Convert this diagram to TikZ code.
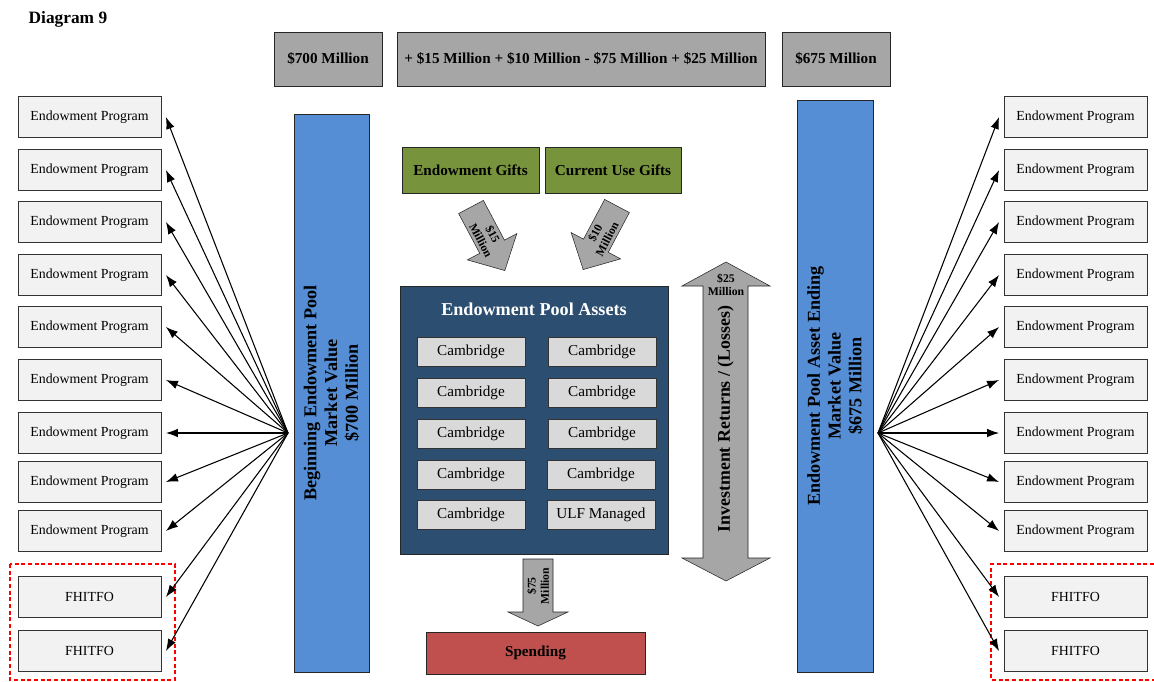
\documentclass[tikz,border=0pt]{standalone}
\usepackage{fontspec}
\setmainfont{Liberation Serif}
\usetikzlibrary{arrows.meta}
\usetikzlibrary{positioning}
\definecolor{topgray}{HTML}{A6A6A6}
\definecolor{progfill}{HTML}{F2F2F2}
\definecolor{barblue}{HTML}{558ED5}
\definecolor{giftgreen}{HTML}{77933C}
\definecolor{poolblue}{HTML}{2C4E70}
\definecolor{cellgray}{HTML}{D9D9D9}
\definecolor{spendred}{HTML}{C0504D}

\begin{document}
\begin{tikzpicture}[x=0.75pt,y=-0.75pt,
prog/.style = {draw=black!80, fill=progfill, minimum width=107.25pt,
            minimum height=30.75pt, inner sep=0pt,
            font=\fontsize{10.4}{12}\selectfont},
topbox/.style = {draw=black!85, fill=topgray, minimum height=40.5pt,
            inner sep=0pt, font=\fontsize{11.4}{13}\selectfont\bfseries},
bar/.style = {draw=black!85, fill=barblue, rotate=90, align=center,
            inner sep=0pt, font=\fontsize{13.6}{15.5}\selectfont\bfseries},
gift/.style = {draw=black!85, fill=giftgreen, minimum height=34.5pt,
            inner sep=0pt, font=\fontsize{11.4}{13}\selectfont\bfseries},
cell/.style = {draw=black!80, fill=cellgray, minimum width=81pt,
            minimum height=21.75pt, inner sep=0pt,
            font=\fontsize{11.4}{13}\selectfont},
blockarrow/.style = {draw=black!85, fill=topgray, line join=miter},
arrowlabel/.style = {align=center, inner sep=0pt,
            font=\fontsize{8.8}{10}\selectfont\bfseries},
fan/.style = {draw=black, line width=0.8pt, -{Latex[length=9pt,width=6.5pt]}},
fhitfo/.style = {draw=red, line width=1.2pt, dash pattern=on 3pt off 2pt}
                ]
    \useasboundingbox (0,0) rectangle (1154,682);
    \node[anchor=west, font=\fontsize{13}{15}\selectfont\bfseries] (title) at (24,19) {Diagram 9};
    % top row of values
    \node[topbox, minimum width=81pt] (start) at (328,59) {\$700 Million};
    \node[topbox, minimum width=276pt] (change) at (581,59)
        {+ \$15 Million + \$10 Million - \$75 Million + \$25 Million};
    \node[topbox, minimum width=81pt] (finish) at (836,59) {\$675 Million};
    % programs on both sides
    \foreach \i/\y in {1/117, 2/170, 3/222, 4/275, 5/327, 6/380, 7/433, 8/482, 9/531}
    {
        \node[prog] (L\i) at (89.5,\y) {Endowment Program};
        \node[prog] (R\i) at (1075.5,\y) {Endowment Program};
    }
    \foreach \i/\y in {10/597, 11/651}
    {
        \node[prog] (L\i) at (89.5,\y) {FHITFO};
        \node[prog] (R\i) at (1075.5,\y) {FHITFO};
    }
    \draw[fhitfo] (10,564) rectangle (175,680);
    \draw[fhitfo] (1154,564) -- (991,564) -- (991,680) -- (1154,680);
    % market value bars
    \node[bar, minimum width=418.5pt, minimum height=56.25pt] (begin) at (331.5,393)
        {Beginning Endowment Pool\\Market Value\\\$700 Million};
    \node[bar, minimum width=429pt, minimum height=57pt] (ending) at (835,386)
        {Endowment Pool Asset Ending\\Market Value\\\$675 Million};
    \coordinate (lhub) at (288,433);
    \coordinate (rhub) at (878,433);
    \foreach \i in {1,...,11}
    {
        \draw[fan] (lhub) -- ([xshift=3.5pt]L\i.east);
        \draw[fan] (rhub) -- ([xshift=-3.5pt]R\i.west);
    }
    % gifts
    \node[gift, minimum width=102.75pt] (egifts) at (470.5,170) {Endowment Gifts};
    \node[gift, minimum width=102pt] (cgifts) at (613,170) {Current Use Gifts};
    \begin{scope}[shift={(471,207)}, rotate=-62]
        \filldraw[blockarrow] (0,-14) -- (45,-14) -- (45,-28) -- (72,0)
            -- (45,28) -- (45,14) -- (0,14) -- cycle;
        \node[arrowlabel, rotate=-62] (egval) at (34,0) {\$15\\Million};
    \end{scope}
    \begin{scope}[shift={(617,206)}, rotate=-118]
        \filldraw[blockarrow] (0,-14) -- (45,-14) -- (45,-28) -- (72,0)
            -- (45,28) -- (45,14) -- (0,14) -- cycle;
        \node[arrowlabel, rotate=62] (cgval) at (34,0) {\$10\\Million};
    \end{scope}
    % pool of assets
    \node[draw=black!85, fill=poolblue, minimum width=201pt, minimum height=201pt,
        inner sep=0pt] (pool) at (534,420) {};
    \node[text=white, font=\fontsize{13.6}{15}\selectfont\bfseries] (pooltitle) at (534,309)
        {Endowment Pool Assets};
    \foreach \j/\y in {1/351.5, 2/393, 3/433.5, 4/474.5, 5/515}
        \node[cell] (A\j) at (471,\y) {Cambridge};
    \foreach \j/\x/\y in {1/602/351.5, 2/602/393, 3/602/433.5, 4/601/474.5}
        \node[cell] (B\j) at (\x,\y) {Cambridge};
    \node[cell] (B5) at (601,515) {ULF Managed};
    % investment returns
    \filldraw[blockarrow] (726,262) -- (770,286) -- (748,286) -- (748,558)
        -- (770,558) -- (726,581) -- (682,558) -- (703,558) -- (703,286)
        -- (682,286) -- cycle;
    \node[arrowlabel] (retval) at (726,285) {\$25\\Million};
    \node[rotate=90, inner sep=0pt, font=\fontsize{13.4}{16}\selectfont\bfseries] (returns)
        at (725.5,419) {Investment Returns / (Losses)};
    % spending
    \filldraw[blockarrow] (523,559) -- (553,559) -- (553,612) -- (568,612)
        -- (538,626) -- (508,612) -- (523,612) -- cycle;
    \node[arrowlabel, rotate=90] (spval) at (538,586) {\$75\\Million};
    \node[draw=black!85, fill=spendred, minimum width=164.25pt, minimum height=31.5pt,
        inner sep=0pt, font=\fontsize{11.4}{13}\selectfont\bfseries] (spend) at (535.5,653)
        {Spending};
\end{tikzpicture}
\end{document}
